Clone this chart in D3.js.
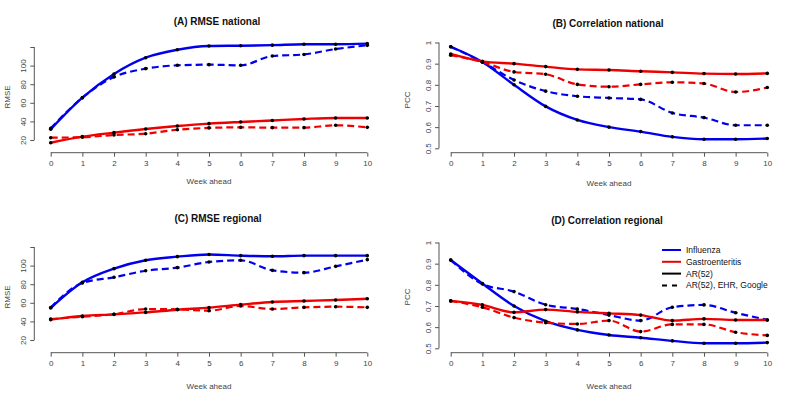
<!DOCTYPE html>
<html><head><meta charset="utf-8">
<script src="https://cdn.jsdelivr.net/npm/d3@7"></script>
<style>body{margin:0;background:#fff}svg{display:block;font-family:"Liberation Sans",Arial,sans-serif}</style>
</head><body><svg id="c" width="800" height="401"></svg>
<script>
const weeks = [0,1,2,3,4,5,6,7,8,9,10];
// (A) RMSE national
const A_fluAR   = [31.5,65.5,91,108.5,117,121,121.4,122,123,123,123.6];
const A_fluAll  = [32.5,65.5,87.7,96.7,100.3,101,100.3,110.3,112,117.8,121.8];
const A_gasAR   = [17,23.6,27.9,31.8,35,37.6,39.4,41,42.6,43.7,43.7];
const A_gasAll  = [22.5,23,25.4,26.8,31,33,33.6,33.3,33.3,35.8,33.6];
// (B) Correlation national
const B_fluAR   = [0.98,0.908,0.80,0.698,0.634,0.60,0.579,0.554,0.543,0.543,0.546];
const B_fluAll  = [0.98,0.908,0.823,0.77,0.746,0.738,0.731,0.667,0.645,0.609,0.609];
const B_gasAR   = [0.946,0.911,0.90,0.886,0.873,0.87,0.864,0.859,0.853,0.851,0.854];
const B_gasAll  = [0.94,0.908,0.861,0.85,0.802,0.791,0.802,0.812,0.806,0.766,0.787];
// (C) RMSE regional
const C_fluAR   = [54.4,82,96.7,105.7,109.6,112,110.7,110,110.7,110.7,110.7];
const C_fluAll  = [55,81.3,87.4,94.5,97.8,103.9,105.7,94.9,92.4,99.2,106.4];
const C_gasAR   = [41.9,45.8,47.6,49.7,52.6,54.8,58,60.9,62,63,64.4];
const C_gasAll  = [42.6,45,47.6,53.3,53,51.5,56.6,53.3,55.1,55.8,55.1];
// (D) Correlation regional
const D_fluAR   = [0.917,0.806,0.70,0.628,0.587,0.563,0.55,0.535,0.524,0.524,0.527];
const D_fluAll  = [0.917,0.804,0.768,0.706,0.686,0.657,0.631,0.694,0.705,0.668,0.634];
const D_gasAR   = [0.724,0.705,0.67,0.683,0.672,0.665,0.657,0.631,0.639,0.634,0.634];
const D_gasAll  = [0.724,0.694,0.645,0.621,0.615,0.631,0.579,0.613,0.613,0.576,0.561];

const rmseTicks = [20,40,60,80,100,120];
const pccTicks = [0.5,0.6,0.7,0.8,0.9,1];
const legendLabels = ["Influenza","Gastroenteritis","AR(52)","AR(52), EHR, Google"];

const BLUE="#0000ee", RED="#ee0000";
const svg = d3.select("#c");

const panels = [
  {title:"(A) RMSE national", ylab:"RMSE", data:[A_fluAR,A_fluAll,A_gasAR,A_gasAll], ticks:rmseTicks, dom:[20,120],
   x0:50.7,x1:367.3, yb:140, yt:47, xaxY:152.7, yaxX:34.3, titleX:217, titleY:25, xlabY:184, ylabX:10, ylabY:97, tickFmt:d=>d===120?"":d},
  {title:"(B) Correlation national", ylab:"PCC", data:[B_fluAR,B_fluAll,B_gasAR,B_gasAll], ticks:pccTicks, dom:[0.5,1],
   x0:450.7,x1:767.3, yb:148.3, yt:42.5, xaxY:152.7, yaxX:439, titleX:608, titleY:27, xlabY:186, ylabX:410, ylabY:100, tickFmt:d=>String(d)},
  {title:"(C) RMSE regional", ylab:"RMSE", data:[C_fluAR,C_fluAll,C_gasAR,C_gasAll], ticks:rmseTicks, dom:[20,120],
   x0:50.7,x1:367.3, yb:340, yt:247, xaxY:352.7, yaxX:34.3, titleX:218, titleY:222, xlabY:389, ylabX:10, ylabY:297, tickFmt:d=>d===120?"":d},
  {title:"(D) Correlation regional", ylab:"PCC", data:[D_fluAR,D_fluAll,D_gasAR,D_gasAll], ticks:pccTicks, dom:[0.5,1],
   x0:450.7,x1:767.3, yb:348.3, yt:242.5, xaxY:352.7, yaxX:439, titleX:607, titleY:224, xlabY:389, ylabX:410, ylabY:297, tickFmt:d=>String(d)}
];
const styles = [
  {color:BLUE, dash:null, w:2.4},
  {color:BLUE, dash:"7,4", w:2.2},
  {color:RED, dash:null, w:2.4},
  {color:RED, dash:"7,4", w:2.2}
];
const AX="#555", TX="#444";

panels.forEach(p=>{
  const x = d3.scaleLinear().domain([0,10]).range([p.x0,p.x1]);
  const y = d3.scaleLinear().domain(p.dom).range([p.yb,p.yt]);
  const g = svg.append("g");
  // x axis
  const xa = g.append("g").attr("transform",`translate(0,${p.xaxY})`)
    .call(d3.axisBottom(x).tickValues(weeks).tickSize(4).tickPadding(4).tickFormat(d=>d));
  xa.select(".domain").attr("stroke",AX).attr("d",`M${p.x0},0H${p.x1}`);
  xa.selectAll(".tick line").attr("stroke",AX);
  xa.selectAll("text").attr("fill",TX).style("font-size","8px");
  // y axis
  const ya = g.append("g").attr("transform",`translate(${p.yaxX},0)`)
    .call(d3.axisLeft(y).tickValues(p.ticks).tickSize(4).tickFormat(p.tickFmt));
  ya.select(".domain").attr("stroke",AX).attr("d",`M0,${p.yb}V${p.yt}`);
  ya.selectAll(".tick line").attr("stroke",AX);
  ya.selectAll("text").attr("fill",TX).style("font-size","8px")
    .attr("x",null).attr("dy",null).attr("text-anchor","middle")
    .attr("transform","translate(-11,0) rotate(-90)").attr("dy","0.32em");
  // titles
  g.append("text").attr("x",p.titleX).attr("y",p.titleY).attr("text-anchor","middle")
    .style("font-size","10px").style("font-weight","bold").attr("fill","#111").text(p.title);
  g.append("text").attr("x",(p.x0+p.x1)/2).attr("y",p.xlabY).attr("text-anchor","middle")
    .style("font-size","8px").attr("fill",TX).text("Week ahead");
  g.append("text").attr("transform",`translate(${p.ylabX},${p.ylabY}) rotate(-90)`).attr("text-anchor","middle")
    .style("font-size","8px").attr("fill",TX).text(p.ylab);
  // lines
  const line = d3.line().x((d,i)=>x(weeks[i])).y(d=>y(d)).curve(d3.curveMonotoneX);
  p.data.forEach((s,k)=>{
    const st = styles[k];
    g.append("path").datum(s).attr("d",line).attr("fill","none").attr("stroke",st.color)
      .attr("stroke-width",st.w).attr("stroke-dasharray",st.dash);
  });
  p.data.forEach(s=>{
    g.selectAll(null).data(s).enter().append("circle")
      .attr("cx",(d,i)=>x(weeks[i])).attr("cy",d=>y(d)).attr("r",1.8).attr("fill","#000");
  });
});

// legend in panel D
const leg = svg.append("g");
const legStyles = [{c:BLUE,d:null},{c:RED,d:null},{c:"#000",d:null},{c:"#000",d:"5,5"}];
legendLabels.forEach((t,i)=>{
  const yy = 250 + i*11.8;
  leg.append("line").attr("x1",662).attr("x2",681).attr("y1",yy).attr("y2",yy)
    .attr("stroke",legStyles[i].c).attr("stroke-width",2).attr("stroke-dasharray",legStyles[i].d);
  leg.append("text").attr("x",686).attr("y",yy).attr("dy","0.35em").style("font-size","8.5px")
    .attr("fill","#111").text(t);
});
</script></body></html>
